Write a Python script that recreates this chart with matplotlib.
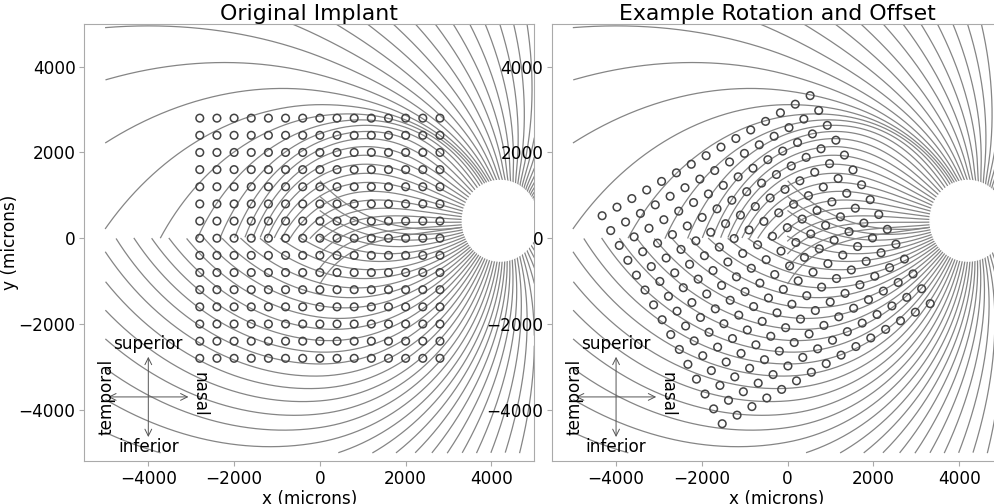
import numpy as np
import matplotlib
matplotlib.use("Agg")
import matplotlib.pyplot as plt
from matplotlib.patches import Ellipse
from matplotlib.transforms import Affine2D

# electrode grid (microns)
grid_x = [-2800, -2400, -2000, -1600, -1200, -800, -400, 0,
          400, 800, 1200, 1600, 2000, 2400, 2800]
grid_y = [-2800, -2400, -2000, -1600, -1200, -800, -400, 0,
          400, 800, 1200, 1600, 2000, 2400, 2800]
rot_deg = 30
offset = (-500, -500)

# axon map (Jansonius 2009), optic disc in degrees
loc_od = (15.5, 1.5)
od_size = (1770, 1880)
n_bundles = 93
phi_range = (-180, 180)
rho_range = (3, 45)
n_rho = 801
clip = 5000

titles = ["Original Implant", "Example Rotation and Offset"]


def dva2ret(x, y):
    phi = np.arctan2(y, x)
    r = np.hypot(x, y)
    r_um = 1e3 * (0.268 * r + 3.427e-4 * r ** 2 - 8.3309e-6 * r ** 3)
    return r_um * np.cos(phi), r_um * np.sin(phi)


def jansonius(phi0):
    rho = np.linspace(rho_range[0], rho_range[1], n_rho)
    if phi0 > 0:
        c = 1.9 + 1.4 * np.tanh((phi0 - 121.0) / 14.0)
        b = np.exp(-1.9 + 3.9 * np.tanh(-(phi0 - 121.0) / 14.0))
    else:
        c = 1.0 + 0.5 * np.tanh((-phi0 - 90.0) / 25.0)
        b = -np.exp(0.5 + 1.5 * np.tanh(-(-phi0 - 90.0) / 25.0))
    phi = phi0 + b * (rho - rho.min()) ** c
    xp = rho * np.cos(np.deg2rad(phi))
    yp = rho * np.sin(np.deg2rad(phi))
    x = xp + loc_od[0]
    y = yp.copy()
    idx = xp > -loc_od[0]
    y[idx] = yp[idx] + loc_od[1] * (x[idx] / loc_od[0]) ** 2
    # cut at the raphe
    bad = (x < 0) & (np.sign(y) != np.sign(phi0))
    if bad.any():
        k = np.argmax(bad)
        x, y = x[:k], y[:k]
    return x, y


bundles = []
for p0 in np.linspace(phi_range[0], phi_range[1], n_bundles):
    bx, by = dva2ret(*jansonius(p0))
    out = (np.abs(bx) > clip) | (np.abs(by) > clip)
    bx = np.where(out, np.nan, bx)
    by = np.where(out, np.nan, by)
    bundles.append((bx, by))

od_x, od_y = dva2ret(loc_od[0], loc_od[1])

plt.rcParams['font.size'] = 12.2
fig = plt.figure(figsize=(9.95, 5.04), dpi=100)
ax1 = fig.add_axes([0.0844, 0.0833, 0.4526, 0.871])
ax2 = fig.add_axes([0.5545, 0.0833, 0.4526, 0.871])

ex, ey = np.meshgrid(grid_x, grid_y)

for i, ax in enumerate([ax1, ax2]):
    for bx, by in bundles:
        ax.plot(bx, by, c=(0.52, 0.52, 0.52), lw=0.9)
    ax.add_patch(Ellipse((od_x, od_y), width=od_size[0], height=od_size[1],
                         color='white', zorder=10))

    if i == 0:
        tr = ax.transData
    else:
        tr = Affine2D().rotate_deg(rot_deg).translate(*offset) + ax.transData
    ax.scatter(ex.ravel(), ey.ravel(), s=30, facecolors='none',
               edgecolors='#444444', linewidths=1.1, transform=tr, zorder=5)

    # orientation annotation
    ax.annotate('', xy=(-4000, -2700), xytext=(-4000, -4700),
                arrowprops=dict(arrowstyle='<->', color='#555555', lw=0.7))
    ax.annotate('', xy=(-5000, -3700), xytext=(-3000, -3700),
                arrowprops=dict(arrowstyle='<->', color='#555555', lw=0.7))
    ax.text(-4000, -2470, 'superior', ha='center', va='center')
    ax.text(-4000, -4860, 'inferior', ha='center', va='center')
    ax.text(-4970, -3700, 'temporal', ha='center', va='center', rotation=90)
    ax.text(-2800, -3650, 'nasal', ha='center', va='center', rotation=-90)

    ax.set_xlim(-5500, 5000)
    ax.set_ylim(-5200, 5000)
    ax.set_aspect('equal')
    ax.set_xticks([-4000, -2000, 0, 2000, 4000])
    ax.set_yticks([-4000, -2000, 0, 2000, 4000])
    for s in ax.spines.values():
        s.set_color('#aaaaaa')
    ax.tick_params(color='#aaaaaa', pad=2.5)
    ax.set_title(titles[i], fontsize=15.8, pad=2.5)
    ax.set_xlabel('x (microns)', labelpad=2)

ax1.set_ylabel('y (microns)', labelpad=0)

fig.savefig('out.png', dpi=100)
